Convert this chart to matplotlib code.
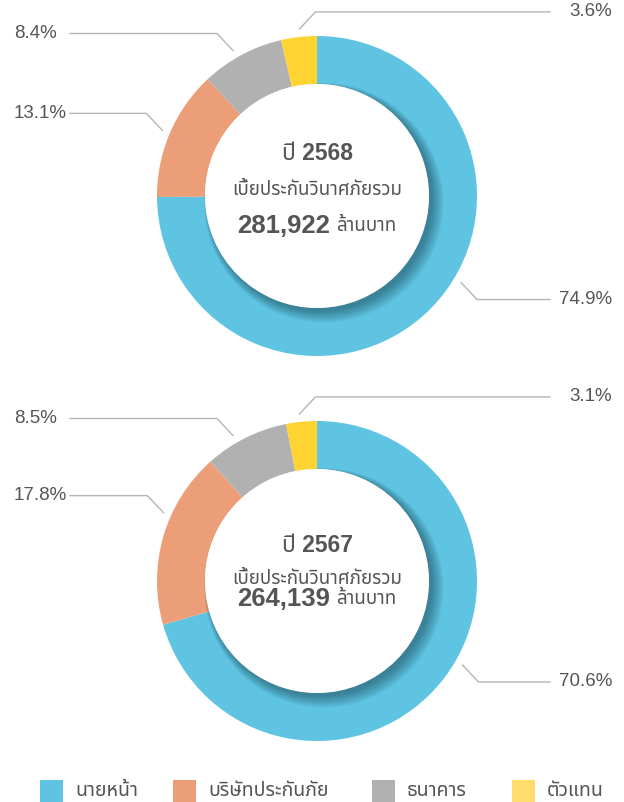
import numpy as np
import matplotlib
matplotlib.use("Agg")
import matplotlib.pyplot as plt
from matplotlib.patches import Circle, Rectangle

# ข้อมูล
channels = ['นายหน้า', 'บริษัทประกันภัย', 'ธนาคาร', 'ตัวแทน']
share_2568 = [74.9, 13.1, 8.4, 3.6]
share_2567 = [70.6, 17.8, 8.5, 3.1]
years = ['2568', '2567']
totals = ['281,922', '264,139']

colors = ['#5ec4e2', '#ec9e78', '#b1b1b1', '#ffd432']
legend_colors = ['#5ec4e2', '#ec9e78', '#b1b1b1', '#fedd6c']
text_color = '#555555'

plt.rcParams['font.family'] = ['Liberation Sans', 'Noto Sans Thai', 'IBM Plex Sans Thai', 'DejaVu Sans']

W, H = 624, 802
fig = plt.figure(figsize=(W / 100, H / 100), dpi=100)
ax = fig.add_axes([0, 0, 1, 1])

CX = 317
R_OUT, R_IN = 160, 112
label_sides = [1, -1, -1, 1]


def donut(values, cy, year, total, label_angles, text_dy):
    y0 = H - cy
    ax.pie(values, colors=colors, startangle=90, counterclock=False,
           radius=R_OUT, center=(CX, y0), frame=True,
           wedgeprops=dict(width=R_OUT - R_IN, linewidth=0))

    # тень внутреннего круга
    for i in range(12):
        ax.add_patch(Circle((CX + 3 + i * 0.35, y0 - 3 - i * 0.35), R_IN + i * 0.7,
                            color='#10303a', alpha=0.045, lw=0, zorder=3))
    ax.add_patch(Circle((CX, y0), R_IN, color='white', lw=0, zorder=4))

    # подписи с выносками
    for v, ang, sx in zip(values, label_angles, label_sides):
        a = np.deg2rad(ang)
        px, py = CX + 168 * np.cos(a), y0 + 168 * np.sin(a)
        sy = 1 if np.sin(a) > 0 else -1
        ex, ey = px + 16 * sx, py + 17 * sy
        end = 550 if sx > 0 else 70
        ax.plot([px, ex, end], [py, ey, ey], color='#b5b5b5', lw=1, zorder=2)
        if sx > 0:
            ax.text(612, ey, f'{v}%', ha='right', va='center', fontsize=13.5, color=text_color)
        else:
            ax.text(14, ey, f'{v}%', ha='left', va='center', fontsize=13.5, color=text_color)

    # текст в центре
    ax.text(CX, y0 + text_dy[0], f'ปี {year}', ha='center', va='center',
            fontsize=16.5, fontweight='bold', color=text_color, zorder=5)
    ax.text(CX, y0 + text_dy[1], 'เบี้ยประกันวินาศภัยรวม', ha='center', va='center',
            fontsize=13.5, color=text_color, zorder=5)
    t1 = ax.text(0, y0 + text_dy[2], total, ha='left', va='center',
                 fontsize=18.5, fontweight='bold', color=text_color, zorder=5)
    t2 = ax.text(0, y0 + text_dy[2], 'ล้านบาท', ha='left', va='center',
                 fontsize=13.5, color=text_color, zorder=5)
    r = fig.canvas.get_renderer()
    w1 = t1.get_window_extent(r).width
    w2 = t2.get_window_extent(r).width
    gap = 6
    left = CX - (w1 + gap + w2) / 2
    t1.set_x(left)
    t2.set_x(left + w1 + gap)


donut(share_2568, 196, years[0], totals[0], [-31, 157, 120, 96], [42, 6, -30])
donut(share_2567, 581, years[1], totals[1], [-30, 156, 120, 96], [35, 2, -18])

# легенда
leg_x = [40, 173, 372, 512]
for name, c, x in zip(channels, legend_colors, leg_x):
    ax.add_patch(Rectangle((x, H - 803), 23, 23, color=c, lw=0))
    ax.text(x + 35, H - 791, name, ha='left', va='center', fontsize=14, color=text_color)

ax.set_xlim(0, W)
ax.set_ylim(0, H)
ax.set_aspect('auto')
ax.axis('off')

fig.savefig('out.png', dpi=100)
